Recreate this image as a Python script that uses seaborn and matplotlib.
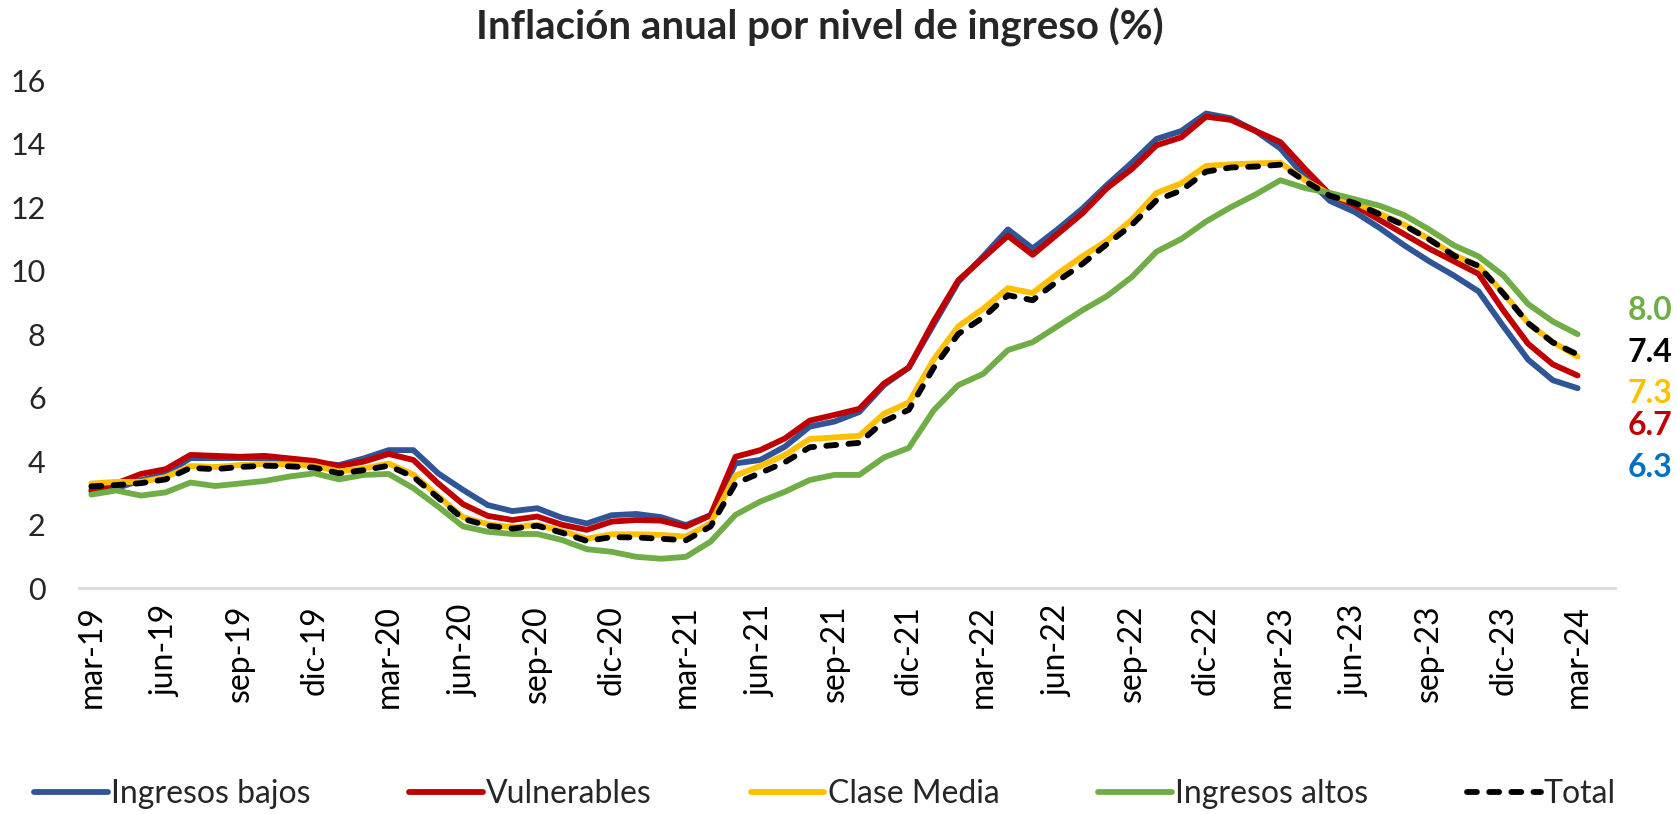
# Inflacion anual por nivel de ingreso - recreacion del grafico
import pandas as pd
import seaborn as sns
import matplotlib.pyplot as plt

# meses: mar-19 ... mar-24
abrev = ['ene', 'feb', 'mar', 'abr', 'may', 'jun', 'jul', 'ago', 'sep', 'oct', 'nov', 'dic']
meses = [abrev[(m - 1) % 12] + '-' + str(19 + (m - 1) // 12) for m in range(3, 64)]

etiquetas_x = ['mar-19', 'jun-19', 'sep-19', 'dic-19', 'mar-20', 'jun-20', 'sep-20',
               'dic-20', 'mar-21', 'jun-21', 'sep-21', 'dic-21', 'mar-22', 'jun-22',
               'sep-22', 'dic-22', 'mar-23', 'jun-23', 'sep-23', 'dic-23', 'mar-24']

ingresos_bajos = [3.05, 3.15, 3.4, 3.6, 4.1, 4.1, 4.1, 4.1, 4.05, 3.95, 3.88, 4.09,
                  4.35, 4.35, 3.62, 3.1, 2.62, 2.43, 2.52, 2.22, 2.04, 2.3, 2.34, 2.24,
                  1.99, 2.3, 3.93, 4.04, 4.46, 5.09, 5.25, 5.55, 6.4, 6.95, 8.3, 9.65,
                  10.45, 11.3, 10.7, 11.3, 11.95, 12.7, 13.4, 14.15, 14.4, 14.95, 14.8, 14.4,
                  13.85, 12.95, 12.2, 11.85, 11.35, 10.8, 10.3, 9.85, 9.35, 8.25, 7.2, 6.55,
                  6.3]

vulnerables = [3.1, 3.3, 3.6, 3.75, 4.2, 4.17, 4.14, 4.17, 4.09, 4.01, 3.85, 3.99,
               4.23, 4.04, 3.3, 2.65, 2.28, 2.15, 2.26, 2.0, 1.84, 2.1, 2.15, 2.13,
               1.94, 2.3, 4.14, 4.35, 4.72, 5.28, 5.46, 5.65, 6.45, 6.95, 8.4, 9.7,
               10.4, 11.1, 10.5, 11.15, 11.8, 12.6, 13.2, 13.95, 14.2, 14.85, 14.75, 14.4,
               14.05, 13.2, 12.4, 12.05, 11.6, 11.15, 10.7, 10.3, 9.9, 8.75, 7.7, 7.05,
               6.7]

clase_media = [3.3, 3.35, 3.35, 3.5, 3.85, 3.82, 3.88, 3.92, 3.9, 3.85, 3.68, 3.77,
               3.93, 3.58, 2.9, 2.24, 2.02, 1.92, 2.0, 1.8, 1.56, 1.7, 1.7, 1.68,
               1.63, 2.05, 3.55, 3.85, 4.2, 4.7, 4.75, 4.8, 5.5, 5.85, 7.2, 8.25,
               8.8, 9.45, 9.3, 9.9, 10.45, 10.95, 11.6, 12.45, 12.75, 13.3, 13.35, 13.38,
               13.4, 12.85, 12.4, 12.15, 11.8, 11.45, 11.0, 10.5, 10.15, 9.3, 8.35, 7.75,
               7.3]

ingresos_altos = [2.95, 3.08, 2.92, 3.02, 3.33, 3.22, 3.3, 3.38, 3.52, 3.62, 3.43, 3.57,
                  3.6, 3.15, 2.57, 1.95, 1.78, 1.71, 1.71, 1.52, 1.23, 1.15, 0.99, 0.93,
                  0.99, 1.47, 2.31, 2.73, 3.04, 3.41, 3.57, 3.57, 4.12, 4.42, 5.6, 6.4,
                  6.75, 7.5, 7.75, 8.25, 8.75, 9.2, 9.8, 10.6, 11.0, 11.55, 12.0, 12.4,
                  12.85, 12.6, 12.45, 12.25, 12.05, 11.75, 11.3, 10.8, 10.45, 9.85, 8.95, 8.4,
                  8.0]

total = [3.21, 3.25, 3.31, 3.43, 3.79, 3.75, 3.82, 3.86, 3.84, 3.80, 3.62, 3.72,
         3.86, 3.51, 2.85, 2.19, 1.97, 1.88, 1.97, 1.75, 1.49, 1.61, 1.60, 1.56,
         1.51, 1.95, 3.30, 3.63, 3.97, 4.44, 4.51, 4.58, 5.26, 5.62, 6.94, 8.01,
         8.53, 9.23, 9.07, 9.67, 10.21, 10.84, 11.44, 12.22, 12.53, 13.12, 13.25, 13.28,
         13.34, 12.82, 12.36, 12.13, 11.78, 11.43, 10.99, 10.48, 10.15, 9.28, 8.35, 7.74,
         7.36]

series = ['Ingresos bajos', 'Vulnerables', 'Clase Media', 'Ingresos altos', 'Total']
valores = [ingresos_bajos, vulnerables, clase_media, ingresos_altos, total]
colores = ['#2F5597', '#C00000', '#FFC000', '#70AD47', '#000000']

# etiquetas finales a la derecha
finales = ['8.0', '7.4', '7.3', '6.7', '6.3']
colores_finales = ['#70AD47', '#000000', '#FFC000', '#C00000', '#0070C0']

# tabla larga para seaborn
df = pd.concat([pd.DataFrame({'idx': range(len(meses)), 'mes': meses,
                              'valor': v, 'serie': s})
                for s, v in zip(series, valores)], ignore_index=True)

sns.set_style('white')
plt.rcParams['font.family'] = ['Lato', 'DejaVu Sans']

fig = plt.figure(figsize=(16.77, 8.14), dpi=100)
ax = fig.add_axes([0.0471, 0.2773, 0.9158, 0.6242])

sns.lineplot(data=df, x='idx', y='valor', hue='serie', style='serie',
             hue_order=series, style_order=series,
             palette=dict(zip(series, colores)),
             dashes={'Ingresos bajos': '', 'Vulnerables': '', 'Clase Media': '',
                     'Ingresos altos': '', 'Total': (1.7, 2.1)},
             linewidth=4.2, ax=ax, legend=True)

for ln in ax.get_lines():
    ln.set_solid_capstyle('round')
    ln.set_dash_capstyle('round')

handles, labels = ax.get_legend_handles_labels()
ax.get_legend().remove()
for h in handles:
    h.set_linewidth(4.2)
    h.set_dash_capstyle('round')
fig.legend(handles, labels, loc='center', bbox_to_anchor=(0.492, 0.024),
           ncol=5, frameon=False, fontsize=23, handlelength=2.3,
           handletextpad=0.1, columnspacing=3.1)

# ejes
ax.set_xlim(-0.5, 61.5)
ax.set_ylim(0, 16)
ax.set_yticks(range(0, 17, 2))
ax.set_xticks(range(0, 61, 3))
ax.set_xticklabels(etiquetas_x, rotation=90, va='top', ha='center')
ax.set_xticks([x - 0.5 for x in range(0, 61, 3)], minor=True)
ax.tick_params(axis='x', which='major', length=0, pad=12, labelsize=23, colors='black')
ax.tick_params(axis='x', which='minor', length=9, width=1.5, color='#D9D9D9', direction='out')
ax.tick_params(axis='y', length=0, pad=24, labelsize=22)
ax.set_xlabel('')
ax.set_ylabel('')
for s in ['top', 'right', 'left']:
    ax.spines[s].set_visible(False)
ax.spines['bottom'].set_color('#D9D9D9')
ax.spines['bottom'].set_linewidth(2)
ax.grid(False)

# valores finales
pos_y = [8.75, 7.44, 6.13, 5.12, 3.81]
for txt, c, y in zip(finales, colores_finales, pos_y):
    ax.text(1.0085, y, txt, transform=ax.get_yaxis_transform(), color=c,
            fontsize=23, fontweight='bold', ha='left', va='center')

fig.text(0.489, 0.966, 'Inflación anual por nivel de ingreso (%)',
         fontsize=29, fontweight='bold', ha='center', va='center')

plt.savefig('out.png', dpi=100)
